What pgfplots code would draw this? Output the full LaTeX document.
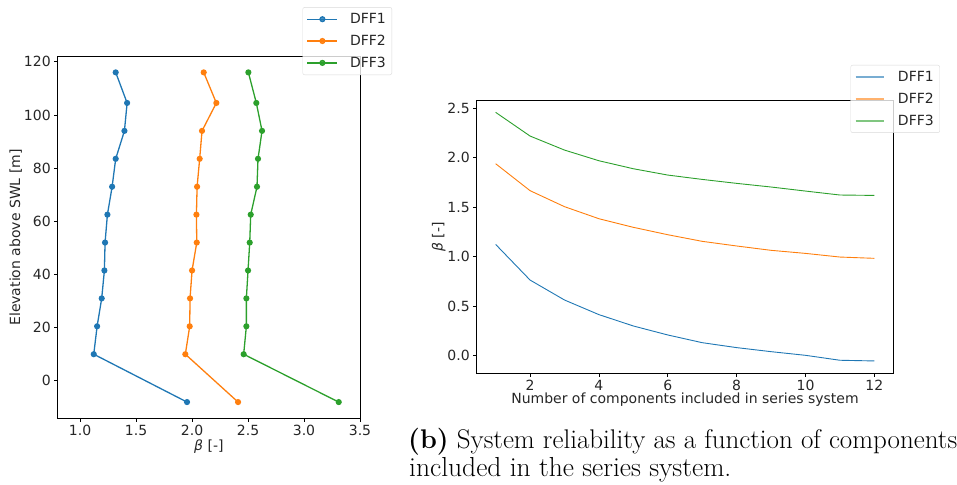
\documentclass[border=0pt]{standalone}
\usepackage{fontspec}
\setsansfont{DejaVu Sans}
\usepackage{pgfplots}
\pgfplotsset{compat=1.18}
\definecolor{c0}{HTML}{1F77B4}
\definecolor{c1}{HTML}{FF7F0E}
\definecolor{c2}{HTML}{2CA02C}
\pgfplotsset{
  mpl/.style={
    scale only axis,
    axis line style={line width=0.8pt, black},
    tick align=outside, tick pos=left,
    major tick length=3.5pt,
    every tick/.style={black, line width=0.8pt},
    tick label style={font=\sffamily\fontsize{14}{16}\selectfont, text=black!85},
    label style={font=\sffamily\fontsize{14}{16}\selectfont, text=black!85},
    /pgf/number format/assume math mode=true,
    legend cell align=left,
    legend style={draw=black!15, rounded corners=2pt, fill=white, fill opacity=0.8, text opacity=1,
      font=\sffamily\fontsize{14}{16}\selectfont, text=black!85, row sep=6pt, inner sep=4pt},
  }
}
\begin{document}
\begin{tikzpicture}
\path[use as bounding box] (0pt,0pt) rectangle (957pt,484pt);
% left axis
\begin{axis}[mpl,
  at={(57.7pt,65.7pt)}, anchor=south west,
  width=302.3pt, height=361.6pt,
  xmin=0.8, xmax=3.5, ymin=-14.1, ymax=121.9,
  xtick={1,1.5,2,2.5,3,3.5}, ytick={0,20,40,60,80,100,120},
  xticklabel style={/pgf/number format/.cd, fixed, fixed zerofill, precision=1},
  xlabel={\textit{β} [-]}, ylabel={Elevation above SWL [m]},
  xlabel style={yshift=3pt}, ylabel style={yshift=-5pt},
  legend style={at={(1.106,1.137)}, anchor=north east},
  legend image code/.code={\draw[mark repeat=2,mark phase=2,#1] plot coordinates {(0pt,0pt) (15pt,0pt) (30pt,0pt)}; \path (40pt,0pt);},
  every axis plot/.append style={line width=1.3pt, mark=*, mark size=2.4pt},
]
\addplot[c0, mark options={fill=c0}] coordinates {
(1.318,116) (1.42,104.5) (1.396,94) (1.318,83.5) (1.286,73) (1.244,62.5)
(1.223,52) (1.217,41.5) (1.193,31) (1.152,20.5) (1.122,10) (1.955,-8)};
\addplot[c1, mark options={fill=c1}] coordinates {
(2.104,116) (2.217,104.5) (2.089,94) (2.068,83.5) (2.045,73) (2.039,62.5)
(2.042,52) (2.0,41.5) (1.982,31) (1.979,20.5) (1.94,10) (2.411,-8)};
\addplot[c2, mark options={fill=c2}] coordinates {
(2.503,116) (2.574,104.5) (2.625,94) (2.589,83.5) (2.58,73) (2.524,62.5)
(2.515,52) (2.5,41.5) (2.485,31) (2.485,20.5) (2.461,10) (3.31,-8)};
\legend{DFF1,DFF2,DFF3}
\end{axis}
% right axis
\begin{axis}[mpl,
  at={(476.7pt,110.7pt)}, anchor=south west,
  width=416.6pt, height=272.6pt,
  xmin=0.45, xmax=12.55, ymin=-0.182, ymax=2.578,
  xtick={2,4,6,8,10,12}, ytick={0,0.5,1,1.5,2,2.5},
  yticklabel style={/pgf/number format/.cd, fixed, fixed zerofill, precision=1},
  xlabel={Number of components included in series system}, ylabel={\textit{β} [-]},
  xlabel style={yshift=5pt}, ylabel style={yshift=-5pt},
  legend style={at={(1.112,1.131)}, anchor=north east},
  legend image code/.code={\draw[#1, line width=1.6pt, draw opacity=0.6] (0pt,0pt) -- (28pt,0pt); \path (40pt,0pt);},
  every axis plot/.append style={line width=0.9pt, mark=none},
]
\addplot[c0] coordinates {
(1,1.123) (2,0.762) (3,0.560) (4,0.412) (5,0.297) (6,0.206) (7,0.128) (8,0.078)
(9,0.037) (10,0.0) (11,-0.05) (12,-0.057)};
\addplot[c1] coordinates {
(1,1.94) (2,1.667) (3,1.505) (4,1.383) (5,1.296) (6,1.221) (7,1.154) (8,1.107)
(9,1.063) (10,1.032) (11,0.995) (12,0.982)};
\addplot[c2] coordinates {
(1,2.46) (2,2.22) (3,2.078) (4,1.97) (5,1.889) (6,1.825) (7,1.781) (8,1.741)
(9,1.704) (10,1.663) (11,1.623) (12,1.619)};
\legend{DFF1,DFF2,DFF3}
\end{axis}
\node[anchor=base west, inner sep=0pt, font=\fontsize{27}{32}\selectfont] at (408pt,35pt) {\textbf{(b)} System reliability as a function of components};
\node[anchor=base west, inner sep=0pt, font=\fontsize{27.5}{32}\selectfont] at (409pt,8pt) {included in the series system.};
\end{tikzpicture}
\end{document}
